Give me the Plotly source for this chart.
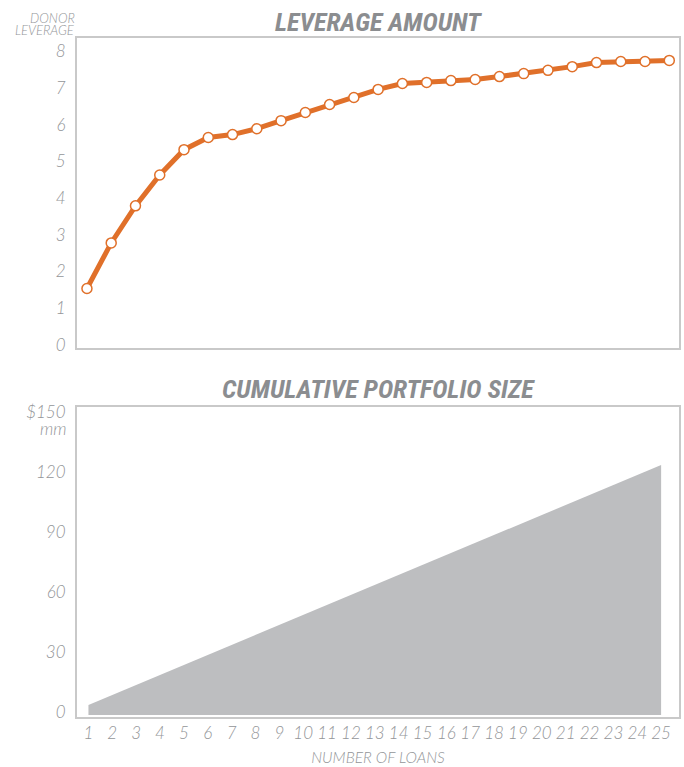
import plotly.graph_objects as go
from plotly.subplots import make_subplots

loans = list(range(1, 26))
leverage = [1.62, 2.86, 3.87, 4.71, 5.40, 5.73, 5.81, 5.97, 6.19, 6.41, 6.63, 6.82,
            7.04, 7.20, 7.23, 7.28, 7.31, 7.39, 7.47, 7.56, 7.66, 7.77, 7.80, 7.80, 7.83]
portfolio = [5, 10, 15, 20, 25, 30, 35, 40, 45, 50, 55, 60, 65, 70, 75, 80, 85, 90,
             95, 100, 105, 110, 115, 120, 125]
lev_ticks = [0, 1, 2, 3, 4, 5, 6, 7, 8]
lev_ticktext = ["0", "1", "2", "3", "4", "5", "6", "7", "8"]
port_ticks = [0, 30, 60, 90, 120, 150]
port_ticktext = ["0", "30", "60", "90", "120", "$150"]

ORANGE = "#e0702a"
GRAY_TXT = "#939598"
TITLE_GRAY = "#8b8d90"
BORDER = "#c9c9c9"
FILL = "#bdbec0"

fig = make_subplots(rows=2, cols=1, vertical_spacing=0.087, row_heights=[0.5, 0.5])

fig.add_trace(go.Scatter(
    x=loans, y=leverage, mode="lines+markers",
    line=dict(color=ORANGE, width=5),
    marker=dict(size=10, color="white", line=dict(color=ORANGE, width=1.5)),
    showlegend=False, hoverinfo="skip"), row=1, col=1)

fig.add_trace(go.Scatter(
    x=loans, y=portfolio, mode="lines", fill="tozeroy",
    line=dict(color=FILL, width=0), fillcolor=FILL,
    showlegend=False, hoverinfo="skip"), row=2, col=1)

tick_font = dict(family="Lato, 'Open Sans', sans-serif", size=17, color=GRAY_TXT,
                 style="italic", weight=300)

axis_common = dict(showline=True, mirror=True, linecolor=BORDER, linewidth=2,
                   showgrid=False, zeroline=False, ticks="")

fig.update_xaxes(**axis_common)
fig.update_yaxes(**axis_common)

fig.update_xaxes(range=[0.59, 25.4], showticklabels=False, row=1, col=1)
fig.update_yaxes(range=[0, 8.44], tickvals=lev_ticks, ticktext=lev_ticktext,
                 tickfont=tick_font, ticklabelstandoff=6, ticklabelshift=-3,
                 row=1, col=1)

fig.update_xaxes(range=[0.52, 25.75], tickvals=loans, ticktext=[str(v) for v in loans],
                 tickfont=tick_font, ticklabelstandoff=0, tickangle=0,
                 title=dict(text="NUMBER OF LOANS", standoff=10,
                            font=dict(family="Lato, 'Open Sans', sans-serif", size=15.5,
                                      color=GRAY_TXT, style="italic", weight=300)),
                 row=2, col=1)
fig.update_yaxes(range=[-1, 154], tickvals=port_ticks, ticktext=port_ticktext,
                 tickfont=tick_font, ticklabelstandoff=6, ticklabelshift=-3,
                 row=2, col=1)

fig.add_annotation(text="mm", xref="paper", yref="y2", x=0, xshift=-8, y=150, yshift=-13,
                   xanchor="right", yanchor="middle", showarrow=False, font=tick_font)

title_font = dict(family="'Roboto Condensed', 'Liberation Sans', Arial, sans-serif",
                  size=26, color=TITLE_GRAY, style="italic", weight=700)
fig.add_annotation(text="LEVERAGE AMOUNT", xref="x domain", yref="y domain",
                   x=0.5, y=1.0, yshift=16, xanchor="center", yanchor="middle",
                   showarrow=False, font=title_font)
fig.add_annotation(text="CUMULATIVE PORTFOLIO SIZE", xref="x2 domain", yref="y2 domain",
                   x=0.5, y=1.0, yshift=18, xanchor="center", yanchor="middle",
                   showarrow=False, font=title_font)

small_font = dict(family="Lato, 'Open Sans', sans-serif", size=13, color=GRAY_TXT,
                  style="italic", weight=300)
fig.add_annotation(text="DONOR", xref="paper", yref="paper", x=0, xshift=0,
                   y=1.0, yshift=20, xanchor="right", yanchor="middle",
                   showarrow=False, font=small_font)
fig.add_annotation(text="LEVERAGE", xref="paper", yref="paper", x=0, xshift=0,
                   y=1.0, yshift=8, xanchor="right", yanchor="middle",
                   showarrow=False, font=small_font)

fig.update_layout(width=684, height=767,
                  margin=dict(l=77, r=3, t=38, b=50),
                  paper_bgcolor="white", plot_bgcolor="white")

fig.write_html("out.html", config={"displayModeBar": False},
               post_script="document.body.style.margin='0';document.body.style.overflow='hidden';")
